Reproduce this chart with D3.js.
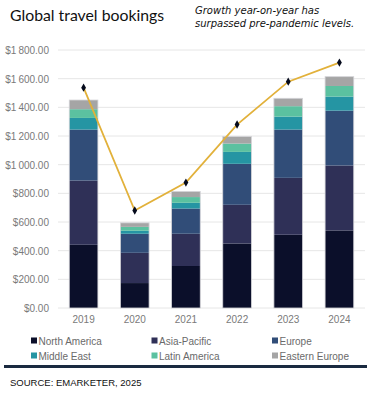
<!DOCTYPE html>
<html>
<head>
<meta charset="utf-8">
<script src="https://cdn.jsdelivr.net/npm/d3@7"></script>
<style>
  body { margin: 0; background: #fff; }
</style>
</head>
<body>
<div id="chart"></div>
<script>
// Data
const years = ['2019', '2020', '2021', '2022', '2023', '2024'];
const regions = ['North America', 'Asia-Pacific', 'Europe', 'Middle East', 'Latin America', 'Eastern Europe'];
const northAmerica = [441, 174, 293, 450, 511, 541];
const asiaPacific = [448, 211, 225, 270, 397, 453];
const europe = [356, 133, 176, 286, 337, 383];
const middleEast = [81, 21, 40, 83, 90, 98];
const latinAmerica = [61, 27, 40, 58, 73, 74];
const easternEurope = [64, 28, 39, 49, 55, 65];
const lineValues = [1537, 680, 875, 1280, 1579, 1712];
const yTicks = [0, 200, 400, 600, 800, 1000, 1200, 1400, 1600, 1800];

// Constant
const width = 375;
const height = 394;
const margin = {top: 50, right: 10, bottom: 86, left: 58};
const colors = ['#0b0f2a', '#2f3057', '#314d78', '#2595a3', '#5bc1a0', '#a5a5a5'];
const lineColor = '#e2b13a';
const labelColor = '#7a7a7a';
const titleFont = 'Lato, "Noto Sans", sans-serif';
const bodyFont = '"Liberation Sans", Arial, sans-serif';

const seriesValues = [northAmerica, asiaPacific, europe, middleEast, latinAmerica, easternEurope];
const table = years.map((y, i) => {
    const row = {year: y};
    regions.forEach((r, j) => { row[r] = seriesValues[j][i]; });
    return row;
});
const stacked = d3.stack().keys(regions)(table);

const svg = d3.select('#chart')
    .append('svg')
        .attr('width', width)
        .attr('height', height);

// Title & subtitle
svg.append('text')
    .attr('x', 10)
    .attr('y', 21)
    .style('font-family', titleFont)
    .style('font-size', '15.8px')
    .attr('fill', '#111')
    .text('Global travel bookings');

const sub = svg.append('text')
    .style('font-family', '"DejaVu Sans", sans-serif')
    .style('font-size', '10px')
    .style('font-style', 'italic')
    .attr('fill', '#111');
sub.append('tspan').attr('x', 195).attr('y', 14).text('Growth year-on-year has');
sub.append('tspan').attr('x', 195).attr('y', 27).text('surpassed pre-pandemic levels.');

const xScale = d3.scaleBand()
    .domain(years)
    .range([margin.left, width - margin.right])
    .paddingInner(0.44)
    .paddingOuter(0.22);

const yScale = d3.scaleLinear()
    .domain([0, 1800])
    .range([308, 50]);

// Gridlines
svg.append('g')
    .selectAll('line')
    .data(yTicks)
    .enter()
    .append('line')
        .attr('x1', margin.left)
        .attr('x2', width - margin.right)
        .attr('y1', d => yScale(d))
        .attr('y2', d => yScale(d))
        .attr('stroke', '#e6e6e6')
        .attr('stroke-width', 1);

// Y axis labels
const yAxis = svg.append('g')
    .attr('transform', `translate(${margin.left - 9},0)`)
    .call(d3.axisLeft(yScale).tickValues(yTicks).tickSize(0)
        .tickFormat(d => '$' + d3.format(',.2f')(d).replace(',', '\u2009')));
yAxis.select('.domain').remove();
yAxis.selectAll('text')
    .attr('dy', '0.35em')
    .attr('x', 0)
    .style('font-family', bodyFont)
    .style('font-size', '10px')
    .attr('fill', labelColor);

// X axis labels
const xAxis = svg.append('g')
    .attr('transform', `translate(0,${yScale(0) + 5})`)
    .call(d3.axisBottom(xScale).tickSize(0));
xAxis.select('.domain').remove();
xAxis.selectAll('text')
    .style('font-family', bodyFont)
    .style('font-size', '10px')
    .attr('fill', labelColor);

// Stacked bars
svg.append('g')
    .selectAll('g')
    .data(stacked)
    .enter()
    .append('g')
        .attr('fill', (d, i) => colors[i])
    .selectAll('rect')
    .data(d => d)
    .enter()
    .append('rect')
        .attr('x', d => xScale(d.data.year))
        .attr('y', d => yScale(d[1]))
        .attr('width', xScale.bandwidth())
        .attr('height', d => yScale(d[0]) - yScale(d[1]));

// Bar outline
svg.append('g')
    .selectAll('rect')
    .data(table)
    .enter()
    .append('rect')
        .attr('x', d => xScale(d.year))
        .attr('y', (d, i) => yScale(stacked[stacked.length - 1][i][1]))
        .attr('width', xScale.bandwidth())
        .attr('height', (d, i) => yScale(0) - yScale(stacked[stacked.length - 1][i][1]))
        .attr('fill', 'none')
        .attr('stroke', '#d4d4d8')
        .attr('stroke-width', 0.8);

// Line
const line = d3.line()
    .x((d, i) => xScale(years[i]) + xScale.bandwidth() / 2)
    .y(d => yScale(d));

svg.append('path')
    .datum(lineValues)
    .attr('d', line)
    .attr('fill', 'none')
    .attr('stroke', lineColor)
    .attr('stroke-width', 1.8);

svg.append('g')
    .selectAll('path')
    .data(lineValues)
    .enter()
    .append('path')
        .attr('transform', (d, i) => `translate(${xScale(years[i]) + xScale.bandwidth() / 2},${yScale(d)})`)
        .attr('d', d3.symbol().type(d3.symbolDiamond).size(20))
        .attr('fill', '#050a1c');

// Legend
const legend = svg.append('g')
    .selectAll('g')
    .data(regions)
    .enter()
    .append('g')
        .attr('transform', (d, i) => `translate(${31 + (i % 3) * 120.5},${341 + Math.floor(i / 3) * 15})`);

legend.append('rect')
    .attr('x', 0)
    .attr('y', -3.5)
    .attr('width', 6)
    .attr('height', 6)
    .attr('fill', (d, i) => colors[i]);

legend.append('text')
    .attr('x', 7.5)
    .attr('dy', '0.35em')
    .style('font-family', bodyFont)
    .style('font-size', '10px')
    .attr('fill', '#6a6a6a')
    .text(d => d);

// Footer
svg.append('line')
    .attr('x1', 4)
    .attr('x2', 367)
    .attr('y1', 366.5)
    .attr('y2', 366.5)
    .attr('stroke', '#1a2a40')
    .attr('stroke-width', 3);

svg.append('text')
    .attr('x', 10)
    .attr('y', 386)
    .style('font-family', bodyFont)
    .style('font-size', '9.5px')
    .attr('fill', '#111')
    .text('SOURCE: EMARKETER, 2025');
</script>
</body>
</html>
